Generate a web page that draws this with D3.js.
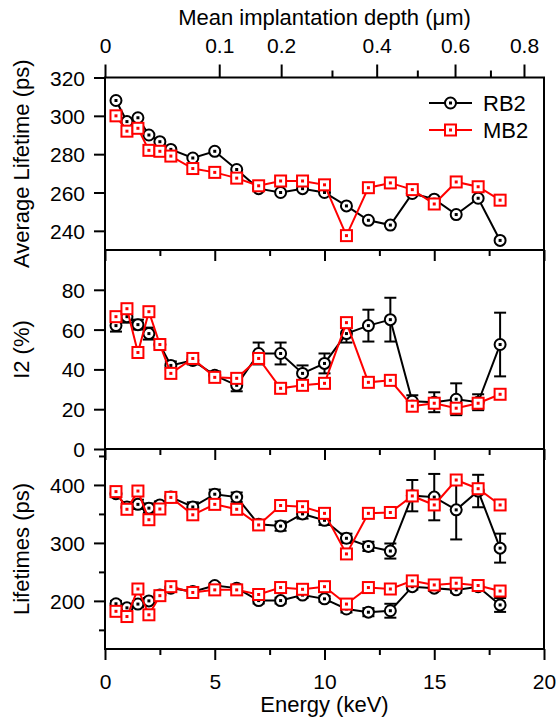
<!DOCTYPE html>
<html>
<head>
<meta charset="utf-8">
<script src="https://cdnjs.cloudflare.com/ajax/libs/d3/7.8.5/d3.min.js"></script>
<style>
  body { margin: 0; background: #fff; }
  svg text { font-family: Arial, "Liberation Sans", sans-serif; fill: #000; }
  .axis line { stroke: #000; stroke-width: 2; }
  .axis path { display: none; }
  .axis text { font-size: 21px; }
</style>
</head>
<body>
<div id="chart"></div>
<script>
// beam energies (keV)
var energy = [0.5, 1, 1.5, 2, 2.5, 3, 4, 5, 6, 7, 8, 9, 10, 11, 12, 13, 14, 15, 16, 17, 18];

// average lifetime (ps)
var avgRB2 = [308, 297, 299, 290, 286.5, 282.5, 278, 281.5, 272, 262, 260, 262, 260, 253, 245.5, 243, 259.5, 256.5, 248.5, 257, 235];
var avgMB2 = [300, 292, 293.5, 282, 281.5, 279, 272.5, 270.5, 267.5, 263.5, 266, 266, 264, 237.5, 262.5, 265, 261.5, 254, 265.5, 263, 256];

// I2 intensity (%)
var i2RB2 = [62, 66.5, 62.5, 58, 52.5, 42, 44.5, 37, 32, 48, 48, 38, 43, 58, 62, 65, 24, 23.5, 25, 23.5, 52.5];
var i2RB2Err = [3, 3, 2.5, 3, 2, 2, 2, 2, 3, 5.5, 5.5, 4, 5, 4.5, 8, 11, 3, 5, 8, 4, 16];
var i2MB2 = [66.5, 70.5, 48.5, 69, 52.5, 38, 45.5, 36, 35.5, 45.5, 30.5, 32, 33, 63.5, 33.5, 34.5, 21.5, 23, 20.5, 23, 27.5];

// lifetimes tau2 / tau1 (ps)
var tau2RB2 = [385, 362, 366.5, 360, 365.5, 379, 362, 384, 379, 332, 329, 350, 339, 308, 294, 286, 381.5, 379, 357, 389.5, 291];
var tau2RB2Err = [6, 8, 8, 8, 6, 6, 8, 8, 8, 6, 8, 8, 8, 8, 8, 13, 27, 40, 51, 28, 25];
var tau2MB2 = [388.5, 358, 389.5, 340, 358.5, 378.5, 348.5, 366.5, 358, 331, 364.5, 362.5, 351, 281, 351, 352.5, 381, 365.5, 408.5, 393.5, 365.5];
var tau1RB2 = [195, 188, 194.5, 200, 210, 222, 216, 226.5, 222, 200.5, 200.5, 210, 203.5, 186, 180.5, 183, 224.5, 222, 219, 224.5, 193];
var tau1RB2Err = [5, 5, 5, 5, 4, 4, 4, 4, 4, 5, 5, 5, 5, 6, 7, 12, 5, 5, 5, 5, 12];
var tau1MB2 = [182, 173, 220.5, 176, 209, 224.5, 214.5, 219, 219, 211, 223, 220, 224.5, 194.5, 223, 220.5, 234.5, 227.5, 230.5, 226.5, 217];

// tick values
var energyTicks = [0, 2.5, 5, 7.5, 10, 12.5, 15, 17.5, 20];
var depthTicks = [0, 0.1, 0.2, 0.3, 0.4, 0.5, 0.6, 0.7, 0.8];
var depthLabels = [0, 0.1, 0.2, 0.4, 0.6, 0.8];
var avgTicks = [240, 260, 280, 300, 320];
var i2Ticks = [0, 20, 40, 60, 80];
var lifeTicks = [200, 300, 400];
var lifeMinor = [150, 250, 350, 450];

var width = 558, height = 720;
var left = 105, right = 544;
var bottom = 649;

var svg = d3.select("#chart").append("svg")
    .attr("width", width)
    .attr("height", height)

var xScale = d3.scaleLinear().domain([0, 20]).range([left, right]);

// depth z(um) = 40/rho * E^1.6 nm, rho ~ 5.6  ->  E = (140 z)^0.625
var depthScale = d3.scalePow().exponent(0.625)
    .domain([0, 0.8])
    .range([xScale(0), xScale(Math.pow(140 * 0.8, 0.625))]);

var yAvg = d3.scaleLinear().domain([230, 320]).range([250, 77.5]);
var yI2 = d3.scaleLinear().domain([0, 100]).range([449, 250]);
var yLife = d3.scaleLinear().domain([117, 462]).range([bottom, 449]);

// frames
[[77.5, 250], [250, 449], [449, bottom]].forEach(function (p) {
    svg.append("rect")
        .attr("x", left).attr("y", p[0])
        .attr("width", right - left).attr("height", p[1] - p[0])
        .attr("fill", "none").attr("stroke", "#000").attr("stroke-width", 2)
})

function leftAxis(scale, major, minor) {
    var g = svg.append("g")
        .attr("class", "axis")
        .attr("transform", "translate(" + left + ",0)")
        .call(d3.axisLeft(scale)
            .tickValues(major.concat(minor))
            .tickSize(11)
            .tickPadding(9)
            .tickFormat(function (d) { return major.indexOf(d) >= 0 ? d : "" }))
    g.selectAll(".tick").filter(function (d) { return minor.indexOf(d) >= 0 })
        .select("line").attr("x2", -6)
    g.selectAll(".tick text").attr("dy", "0.36em")
}

function energyAxis(y, labels) {
    var g = svg.append("g")
        .attr("class", "axis")
        .attr("transform", "translate(0," + y + ")")
        .call(d3.axisBottom(xScale)
            .tickValues(energyTicks)
            .tickSize(11)
            .tickPadding(14)
            .tickFormat(function (d) { return (labels && d % 5 === 0) ? d : "" }))
    g.selectAll(".tick").filter(function (d) { return d % 5 !== 0 })
        .select("line").attr("y2", 6)
}

leftAxis(yAvg, avgTicks, []);
leftAxis(yI2, i2Ticks, []);
leftAxis(yLife, lifeTicks, lifeMinor);

energyAxis(250, false);
energyAxis(449, false);
energyAxis(bottom, true);

// top axis: mean implantation depth
var topAxis = svg.append("g")
    .attr("class", "axis")
    .attr("transform", "translate(0,77.5)")
    .call(d3.axisTop(depthScale)
        .tickValues(depthTicks)
        .tickSize(13)
        .tickPadding(12)
        .tickFormat(function (d) { return depthLabels.indexOf(d) >= 0 ? d : "" }))
topAxis.selectAll(".tick").filter(function (d) { return depthLabels.indexOf(d) < 0 })
    .select("line").attr("y2", -7)

// axis titles
svg.append("text")
    .attr("x", (left + right) / 2).attr("y", 25)
    .attr("text-anchor", "middle").style("font-size", "22px")
    .text("Mean implantation depth (μm)")

svg.append("text")
    .attr("x", (left + right) / 2).attr("y", 712)
    .attr("text-anchor", "middle").style("font-size", "22px")
    .text("Energy (keV)")

var yTitles = [["Average Lifetime (ps)", (77.5 + 250) / 2], ["I2 (%)", (250 + 449) / 2], ["Lifetimes (ps)", (449 + bottom) / 2]];
yTitles.forEach(function (t) {
    svg.append("text")
        .attr("transform", "translate(29," + t[1] + ") rotate(-90)")
        .attr("text-anchor", "middle").style("font-size", "22px")
        .text(t[0])
})

// series drawing
function drawErrors(vals, errs, yScale) {
    var g = svg.append("g").attr("stroke", "#000").attr("stroke-width", 2)
    energy.forEach(function (e, i) {
        var x = xScale(e), y1 = yScale(vals[i] - errs[i]), y2 = yScale(vals[i] + errs[i]);
        g.append("line").attr("x1", x).attr("x2", x).attr("y1", y1).attr("y2", y2)
        g.append("line").attr("x1", x - 6).attr("x2", x + 6).attr("y1", y1).attr("y2", y1)
        g.append("line").attr("x1", x - 6).attr("x2", x + 6).attr("y1", y2).attr("y2", y2)
    })
}

function drawSeries(vals, yScale, color, shape) {
    var line = d3.line()
        .x(function (d, i) { return xScale(energy[i]) })
        .y(function (d) { return yScale(d) })

    svg.append("path")
        .datum(vals)
        .attr("d", line)
        .attr("fill", "none")
        .attr("stroke", color)
        .attr("stroke-width", 2)

    var pts = svg.selectAll(null)
        .data(vals)
        .enter().append("g")
        .attr("transform", function (d, i) {
            return "translate(" + xScale(energy[i]) + "," + yScale(d) + ")"
        })
    drawMarker(pts, color, shape)
}

function drawMarker(sel, color, shape) {
    if (shape === "circle") {
        sel.append("circle").attr("r", 5.5)
            .attr("fill", "#fff").attr("stroke", color).attr("stroke-width", 2)
    } else {
        sel.append("rect").attr("x", -5.5).attr("y", -5.5).attr("width", 11).attr("height", 11)
            .attr("fill", "#fff").attr("stroke", color).attr("stroke-width", 2)
    }
    sel.append("rect").attr("x", -1.5).attr("y", -1.5).attr("width", 3).attr("height", 3)
        .attr("fill", color)
}

// panel 1
drawSeries(avgRB2, yAvg, "#000", "circle");
drawSeries(avgMB2, yAvg, "#ff0000", "square");

// panel 2
drawErrors(i2RB2, i2RB2Err, yI2);
drawSeries(i2RB2, yI2, "#000", "circle");
drawSeries(i2MB2, yI2, "#ff0000", "square");

// panel 3
drawErrors(tau2RB2, tau2RB2Err, yLife);
drawErrors(tau1RB2, tau1RB2Err, yLife);
drawSeries(tau2RB2, yLife, "#000", "circle");
drawSeries(tau1RB2, yLife, "#000", "circle");
drawSeries(tau2MB2, yLife, "#ff0000", "square");
drawSeries(tau1MB2, yLife, "#ff0000", "square");

// legend
var legend = [["RB2", "#000", "circle", 103], ["MB2", "#ff0000", "square", 130]];
legend.forEach(function (l) {
    svg.append("line")
        .attr("x1", 429).attr("x2", 472).attr("y1", l[3]).attr("y2", l[3])
        .attr("stroke", l[1]).attr("stroke-width", 2)
    var m = svg.append("g").attr("transform", "translate(450.5," + l[3] + ")")
    drawMarker(m, l[1], l[2])
    svg.append("text")
        .attr("x", 483).attr("y", l[3] + 8)
        .style("font-size", "22px")
        .text(l[0])
})
</script>
</body>
</html>
